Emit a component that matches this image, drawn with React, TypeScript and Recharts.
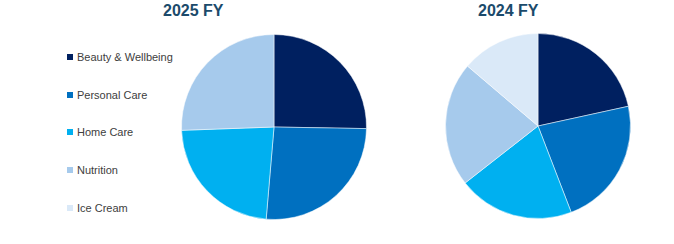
import React from 'react';
import { PieChart, Pie, Cell } from 'recharts';

const SEGMENTS = ['Beauty & Wellbeing', 'Personal Care', 'Home Care', 'Nutrition', 'Ice Cream'];
const FY2025 = [25.3, 26.1, 23.1, 25.6, 0];
const FY2024 = [21.6, 22.6, 20.3, 21.8, 13.8];
const TITLES = ['2025 FY', '2024 FY'];

const COLORS = ['#002060', '#0070C0', '#00B0F0', '#A6CAEC', '#DAE9F8'];

const toRows = (values: number[]) =>
  SEGMENTS.map((name, i) => ({ name, value: values[i], color: COLORS[i] })).filter(
    (d) => d.value > 0
  );

const titleStyle: React.CSSProperties = {
  position: 'absolute',
  top: 2,
  fontFamily: '"Liberation Sans", Arial, sans-serif',
  fontWeight: 'bold',
  fontSize: 16,
  lineHeight: '18px',
  color: '#1B4A6B',
};

const App = () => {
  const rows2025 = toRows(FY2025);
  const rows2024 = toRows(FY2024);

  return (
    <div
      style={{
        position: 'absolute',
        left: 0,
        top: 0,
        width: 674,
        height: 244,
        background: '#fff',
        overflow: 'hidden',
      }}
    >
      <PieChart
        width={674}
        height={244}
        margin={{ top: 0, right: 0, bottom: 0, left: 0 }}
        style={{ position: 'absolute', left: 0, top: 0 }}
      >
        <Pie
          data={rows2025}
          dataKey='value'
          nameKey='name'
          cx={274}
          cy={127}
          outerRadius={92.5}
          startAngle={90}
          endAngle={-270}
          stroke='#fff'
          strokeWidth={0.5}
          isAnimationActive={false}
        >
          {rows2025.map((d) => (
            <Cell key={`a-${d.name}`} fill={d.color} />
          ))}
        </Pie>
        <Pie
          data={rows2024}
          dataKey='value'
          nameKey='name'
          cx={538}
          cy={126}
          outerRadius={92.5}
          startAngle={90}
          endAngle={-270}
          stroke='#fff'
          strokeWidth={0.5}
          isAnimationActive={false}
        >
          {rows2024.map((d) => (
            <Cell key={`b-${d.name}`} fill={d.color} />
          ))}
        </Pie>
      </PieChart>

      <div style={{ ...titleStyle, left: 163 }}>{TITLES[0]}</div>
      <div style={{ ...titleStyle, left: 478 }}>{TITLES[1]}</div>

      {SEGMENTS.map((name, i) => (
        <div
          key={name}
          style={{
            position: 'absolute',
            left: 67,
            top: 50 + i * 37.7,
            height: 14,
            display: 'flex',
            alignItems: 'center',
            fontFamily: '"Liberation Sans", Arial, sans-serif',
            fontSize: 11,
            color: '#404040',
            whiteSpace: 'nowrap',
          }}
        >
          <span
            style={{
              display: 'inline-block',
              width: 6,
              height: 6,
              background: COLORS[i],
              marginRight: 4,
            }}
          />
          {name}
        </div>
      ))}
    </div>
  );
};

export default App;
